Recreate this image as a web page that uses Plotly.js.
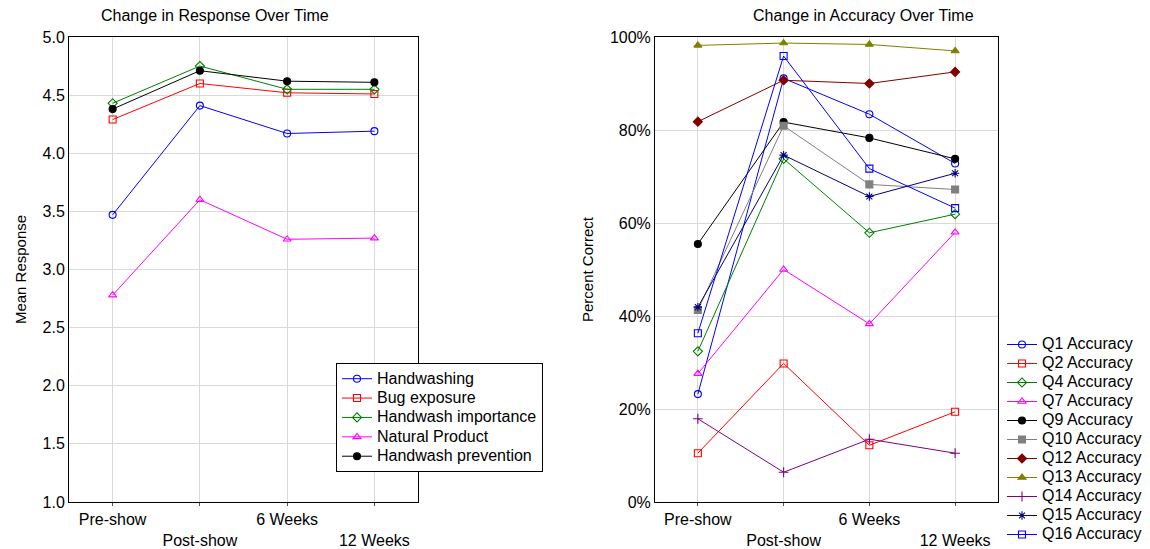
<!DOCTYPE html>
<html><head><meta charset="utf-8">
<script src="https://cdn.plot.ly/plotly-3.0.1.min.js"></script>
<style>html,body{margin:0;padding:0;background:#fff}#chart{width:1150px;height:549px}</style>
</head><body><div id="chart"></div>
<script>
const timepoints = ["Pre-show", "Post-show", "6 Weeks", "12 Weeks"];
const tickLabels = ["Pre-show", "<br>Post-show", "6 Weeks", "<br>12 Weeks"];

// Left chart: mean response
const responseNames = ["Handwashing", "Bug exposure", "Handwash importance", "Natural Product", "Handwash prevention"];
const handwashing = [3.47, 4.41, 4.17, 4.19];
const bugExposure = [4.29, 4.60, 4.52, 4.51];
const handwashImportance = [4.43, 4.75, 4.55, 4.55];
const naturalProduct = [2.78, 3.60, 3.26, 3.27];
const handwashPrevention = [4.38, 4.71, 4.62, 4.61];

// Right chart: percent correct
const accuracyNames = ["Q1 Accuracy", "Q2 Accuracy", "Q4 Accuracy", "Q7 Accuracy", "Q9 Accuracy", "Q10 Accuracy", "Q12 Accuracy", "Q13 Accuracy", "Q14 Accuracy", "Q15 Accuracy", "Q16 Accuracy"];
const q1 = [23.2, 91.1, 83.4, 72.8];
const q2 = [10.5, 29.8, 12.2, 19.4];
const q4 = [32.4, 73.8, 57.9, 61.9];
const q7 = [27.6, 50.0, 38.3, 58.0];
const q9 = [55.5, 81.7, 78.3, 73.8];
const q10 = [41.3, 80.9, 68.3, 67.2];
const q12 = [81.8, 90.7, 90.0, 92.5];
const q13 = [98.2, 98.7, 98.4, 97.0];
const q14 = [17.9, 6.4, 13.5, 10.5];
const q15 = [41.9, 74.6, 65.7, 70.7];
const q16 = [36.3, 95.9, 71.7, 63.2];

const responseSeries = [handwashing, bugExposure, handwashImportance, naturalProduct, handwashPrevention];
const responseStyle = [
  {color: "#0000ff", symbol: "circle-open"},
  {color: "#ff0000", symbol: "square-open"},
  {color: "#008000", symbol: "diamond-open"},
  {color: "#ff00ff", symbol: "triangle-up-open"},
  {color: "#000000", symbol: "circle"}
];
const accuracySeries = [q1, q2, q4, q7, q9, q10, q12, q13, q14, q15, q16];
const accuracyStyle = [
  {color: "#0000ff", symbol: "circle-open"},
  {color: "#ff0000", symbol: "square-open"},
  {color: "#008000", symbol: "diamond-open"},
  {color: "#ff00ff", symbol: "triangle-up-open"},
  {color: "#000000", symbol: "circle"},
  {color: "#808080", symbol: "square"},
  {color: "#800000", symbol: "diamond"},
  {color: "#808000", symbol: "triangle-up"},
  {color: "#800080", symbol: "cross-thin-open"},
  {color: "#000080", symbol: "asterisk-open"},
  {color: "#0000ff", symbol: "square-open"}
];

const W = 1150, H = 549;
const legendLabel = n => '<span style="font-size:16px">' + n + '</span>';
const xIdx = timepoints.map((_, i) => i);
const traces = [];
responseSeries.forEach((s, i) => {
  traces.push({
    type: "scatter", mode: "lines+markers", name: legendLabel(responseNames[i]),
    x: xIdx, y: s, xaxis: "x", yaxis: "y", legend: "legend",
    line: {color: responseStyle[i].color, width: 1},
    marker: {color: responseStyle[i].color, symbol: responseStyle[i].symbol, size: 7, line: {color: responseStyle[i].color, width: 1.1}}
  });
});
accuracySeries.forEach((s, i) => {
  traces.push({
    type: "scatter", mode: "lines+markers", name: legendLabel(accuracyNames[i]),
    x: xIdx, y: s, xaxis: "x2", yaxis: "y2", legend: "legend2",
    line: {color: accuracyStyle[i].color, width: 1},
    marker: {color: accuracyStyle[i].color, symbol: accuracyStyle[i].symbol, size: 7, line: {color: accuracyStyle[i].color, width: 1.1}}
  });
});

const font = {family: "Liberation Sans, Arial, sans-serif", color: "#000"};
const xCommon = {
  range: [-0.5, 3.5], tickmode: "array", tickvals: xIdx, ticktext: tickLabels, automargin: false,
  showgrid: true, gridcolor: "#d9d9d9", showline: true, linecolor: "#000", linewidth: 1, mirror: true,
  ticks: "outside", ticklen: 3, tickcolor: "#555", tickfont: {size: 16}, zeroline: false
};
const yDomain = [(H - 502) / H, (H - 37) / H];
const yCommon = {
  domain: yDomain,
  showgrid: true, gridcolor: "#d9d9d9", showline: true, linecolor: "#000", linewidth: 1, mirror: true,
  ticks: "", tickfont: {size: 16}, zeroline: false, automargin: false
};

const layout = {
  width: W, height: H,
  margin: {l: 0, r: 0, t: 0, b: 0},
  paper_bgcolor: "#fff", plot_bgcolor: "#fff",
  font: Object.assign({size: 16}, font),
  showlegend: true,
  xaxis: Object.assign({}, xCommon, {domain: [69/W, 418/W], anchor: "y"}),
  yaxis: Object.assign({}, yCommon, {range: [1, 5], dtick: 0.5, tickformat: ".1f", anchor: "x",
    title: {text: "Mean Response", font: {size: 15}, standoff: 12}}),
  xaxis2: Object.assign({}, xCommon, {domain: [655/W, 998/W], anchor: "y2"}),
  yaxis2: Object.assign({}, yCommon, {range: [0, 100], dtick: 20, ticksuffix: "%", anchor: "x2",
    title: {text: "Percent Correct", font: {size: 15}, standoff: 12}}),
  legend: {x: 336/W, y: 1 - 363/H, xanchor: "left", yanchor: "top",
    bgcolor: "#fff", bordercolor: "#000", borderwidth: 1, font: {size: 12.6}, itemwidth: 30, tracegroupgap: 0},
  legend2: {x: 1002/W, y: 0, xanchor: "left", yanchor: "bottom",
    bgcolor: "rgba(255,255,255,0)", borderwidth: 0, font: {size: 12.3}, itemwidth: 30, tracegroupgap: 0},
  annotations: [
    {text: "Change in Response Over Time", x: 215/W, y: yDomain[1], xref: "paper", yref: "paper",
      xanchor: "center", yanchor: "bottom", yshift: 11, showarrow: false, font: {size: 16}},
    {text: "Change in Accuracy Over Time", x: 863/W, y: yDomain[1], xref: "paper", yref: "paper",
      xanchor: "center", yanchor: "bottom", yshift: 11, showarrow: false, font: {size: 16}}
  ]
};

Plotly.newPlot("chart", traces, layout, {displayModeBar: false, staticPlot: true});
</script>
</body></html>
